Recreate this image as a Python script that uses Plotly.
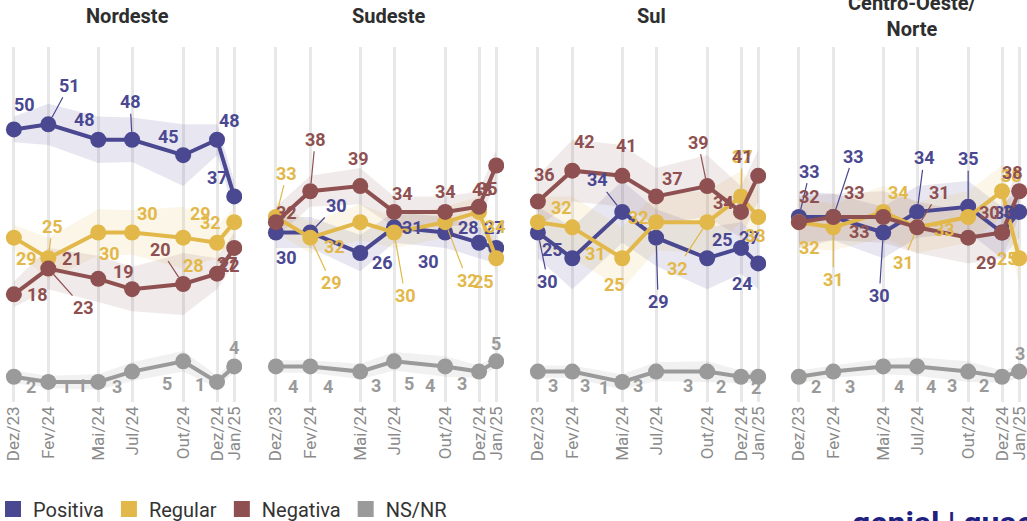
import plotly.graph_objects as go

# ---------------- data ----------------
dates = ["2023-12-01", "2024-02-01", "2024-05-01", "2024-07-01",
         "2024-10-01", "2024-12-01", "2025-01-01"]
tick_labels = ["Dez/23", "Fev/24", "Mai/24", "Jul/24", "Out/24", "Dez/24", "Jan/25"]
region_titles = ["Nordeste", "Sudeste", "Sul", "Centro-Oeste/<br>Norte"]
series_names = ["Positiva", "Regular", "Negativa", "NS/NR"]

# Nordeste
ne_positiva = [50, 51, 48, 48, 45, 48, 37]
ne_regular = [29, 25, 30, 30, 29, 28, 32]
ne_negativa = [18, 23, 21, 19, 20, 22, 27]
ne_nsnr = [2, 1, 1, 3, 5, 1, 4]
# Sudeste
se_positiva = [30, 30, 26, 31, 30, 28, 27]
se_regular = [33, 29, 32, 30, 32, 34, 25]
se_negativa = [32, 38, 39, 34, 34, 35, 43]
se_nsnr = [4, 4, 3, 5, 4, 3, 5]
# Sul
s_positiva = [30, 25, 34, 29, 25, 27, 24]
s_regular = [32, 31, 25, 32, 32, 37, 33]
s_negativa = [36, 42, 41, 37, 39, 34, 41]
s_nsnr = [3, 3, 1, 3, 3, 2, 2]
# Centro-Oeste/Norte
co_positiva = [33, 33, 30, 34, 35, 30, 34]
co_regular = [32, 31, 34, 31, 33, 38, 25]
co_negativa = [32, 33, 33, 31, 29, 30, 38]
co_nsnr = [2, 3, 4, 4, 3, 2, 3]

# margin-of-error bands (+/- points)
ne_margem = [2.5, 4, 4.5, 4.3, 6, 3, 3]
se_margem = [3, 3, 3.5, 3, 3, 3, 3]
s_margem = [5, 6, 6, 5.5, 6, 5, 5]
co_margem = [5, 4.5, 5, 5, 5, 5, 5]
nsnr_margem = [1.2, 1.2, 1.5, 1.8, 2, 1.2, 1.2]

regions = [
    [ne_positiva, ne_regular, ne_negativa, ne_nsnr],
    [se_positiva, se_regular, se_negativa, se_nsnr],
    [s_positiva, s_regular, s_negativa, s_nsnr],
    [co_positiva, co_regular, co_negativa, co_nsnr],
]
margens = [ne_margem, se_margem, s_margem, co_margem]

# ---------------- style ----------------
colors = ["#4a4891", "#e2b84a", "#8e5050", "#9a9a9a"]
band_colors = ["rgba(74,72,145,0.13)", "rgba(226,184,74,0.13)",
               "rgba(142,80,80,0.12)", "rgba(150,150,150,0.13)"]
FONT = "Roboto"

# label offsets (dx, dy in px; leader line flag) per region / series / point
offsets = [
    [  # Nordeste
        [(11, -25, 0), (21, -39, 1), (-14, -20, 0), (-2, -38, 1), (-15, -19, 0), (12, -19, 0), (-17, -19, 0)],
        [(13, 21, 0), (4, -32, 1), (11, 21, 0), (15, -19, 0), (17, -24, 0), (-24, 23, 0), (-24, 0, 0)],
        [(24, 0, 0), (35, 39, 1), (-26, -20, 0), (-9, -18, 0), (-23, -35, 1), (12, -8, 0), (-7, 16, 0)],
        [(17, 10, 0), (18, 5, 0), (-16, 4, 0), (-15, 15, 0), (-16, 22, 0), (-17, 3, 0), (0, -19, 0)],
    ],
    [  # Sudeste
        [(11, 25, 0), (26, -27, 1), (22, 9, 0), (18, 0, 0), (-17, 29, 0), (-11, -15, 0), (-2, -20, 0)],
        [(11, -44, 1), (21, 45, 1), (-26, 24, 0), (11, 63, 1), (22, 58, 1), (16, 15, 0), (-13, 23, 0)],
        [(11, -10, 0), (5, -52, 1), (-2, -28, 0), (8, -18, 0), (0, -20, 0), (8, -18, 0), (-14, 24, 0)],
        [(17, 20, 0), (18, 20, 0), (16, 14, 0), (15, 22, 0), (-15, 19, 0), (-17, 12, 0), (0, -18, 0)],
    ],
    [  # Sul
        [(10, 49, 1), (-20, -9, 0), (-25, -32, 1), (2, 64, 1), (15, -19, 0), (8, -10, 0), (-16, 20, 0)],
        [(24, -15, 0), (23, 26, 0), (-8, 26, 0), (-18, -5, 0), (-30, 46, 1), (1, -40, 1), (-3, 18, 0)],
        [(7, -27, 0), (12, -29, 0), (4, -30, 0), (16, -18, 0), (-9, -44, 1), (-18, -9, 0), (-16, -19, 0)],
        [(15, 14, 0), (13, 14, 0), (-18, 6, 0), (-18, 14, 0), (-19, 14, 0), (-20, 10, 0), (-2, 11, 0)],
    ],
    [  # Centro-Oeste/Norte
        [(11, -46, 1), (20, -61, 1), (-4, 63, 1), (7, -54, 1), (0, -48, 1), (2, -20, 0), (-6, 0, 0)],
        [(11, 25, 0), (0, 52, 1), (15, -19, 0), (-14, 35, 1), (-24, 12, 0), (9, -16, 0), (-12, 0, 0)],
        [(11, -26, 0), (21, -25, 0), (-24, 14, 0), (22, -35, 1), (18, 25, 0), (-13, -20, 0), (-7, -19, 0)],
        [(17, 10, 0), (17, 15, 0), (16, 20, 0), (14, 20, 0), (-16, 14, 0), (-18, 9, 0), (1, -18, 0)],
    ],
]

W, H = 1027, 521
plot_top, plot_bottom = 47, 402
plot_h = plot_bottom - plot_top
panel_left = [0, 262, 524, 785]
panel_width = 242

fig = go.Figure()
annotations = []
layout_axes = {}

draw_order = [3, 0, 1, 2]

for r in range(4):
    xname = "x" if r == 0 else f"x{r + 1}"
    yname = "y" if r == 0 else f"y{r + 1}"
    # bands
    for s in draw_order:
        vals = regions[r][s]
        m = nsnr_margem if s == 3 else margens[r]
        upper = [v + e for v, e in zip(vals, m)]
        lower = [v - e for v, e in zip(vals, m)]
        fig.add_trace(go.Scatter(
            x=dates + dates[::-1], y=upper + lower[::-1],
            fill="toself", fillcolor=band_colors[s], line=dict(width=0),
            mode="lines", hoverinfo="skip", showlegend=False,
            xaxis=xname, yaxis=yname))
    # lines
    for s in draw_order:
        fig.add_trace(go.Scatter(
            x=dates, y=regions[r][s], mode="lines+markers",
            line=dict(color=colors[s], width=4),
            marker=dict(color=colors[s], size=16),
            showlegend=False, name=series_names[s],
            xaxis=xname, yaxis=yname))
    # labels
    for s in range(4):
        for i, v in enumerate(regions[r][s]):
            dx, dy, lead = offsets[r][s][i]
            base = dict(x=dates[i], y=v, xref=xname, yref=yname, text=str(v),
                        font=dict(family=FONT, size=18, color=colors[s], weight="bold"))
            if lead:
                base.update(showarrow=True, ax=dx, ay=dy, arrowhead=0,
                            arrowwidth=1.2, arrowcolor=colors[s], standoff=8)
            else:
                base.update(showarrow=False, xshift=dx, yshift=-dy)
            annotations.append(base)
    # title
    cx = (panel_left[r] + panel_width / 2 + 6) / W
    annotations.append(dict(
        x=cx, y=1 + (plot_top - 16) / plot_h,
        xref="paper", yref="paper", text=region_titles[r], showarrow=False,
        yanchor="middle", xanchor="center",
        font=dict(family=FONT, size=20, color="#2e2e2e", weight="bold")))

    dom = [panel_left[r] / W, (panel_left[r] + panel_width) / W]
    layout_axes["xaxis" if r == 0 else f"xaxis{r + 1}"] = dict(
        domain=dom, type="date", anchor=yname,
        range=["2023-11-06", "2025-01-15"],
        tickmode="array", tickvals=dates, ticktext=tick_labels,
        tickangle=-90, tickfont=dict(family=FONT, size=17, color="#8a8a8a"),
        ticklabeloverflow="allow",
        showgrid=True, gridcolor="#e8e8e8", gridwidth=3,
        zeroline=False, showline=False, ticks="", automargin=False)
    layout_axes["yaxis" if r == 0 else f"yaxis{r + 1}"] = dict(
        domain=[0, 1], range=[-2.9, 66], anchor=xname,
        showgrid=False, zeroline=False, showticklabels=False, showline=False)

# legend entries
for s in range(4):
    fig.add_trace(go.Scatter(
        x=[None], y=[None], mode="markers", name=series_names[s],
        marker=dict(symbol="square", size=16, color=colors[s]),
        showlegend=True, xaxis="x", yaxis="y"))

# logo (partially visible at the bottom)
annotations.append(dict(
    x=850 / W, y=(plot_bottom - 502) / plot_h,
    xref="paper", yref="paper", text="genial | quaest", showarrow=False,
    xanchor="left", yanchor="top",
    font=dict(family=FONT, size=32, color="#1f2180", weight="bold")))

fig.update_layout(
    width=W, height=H,
    margin=dict(l=0, r=0, t=plot_top, b=H - plot_bottom, autoexpand=False),
    plot_bgcolor="white", paper_bgcolor="white",
    annotations=annotations,
    showlegend=True,
    legend=dict(orientation="h", x=-7 / W, xanchor="left",
                y=(plot_bottom - 509) / plot_h, yanchor="middle",
                font=dict(family=FONT, size=20, color="#333333"),
                bgcolor="rgba(0,0,0,0)", itemclick=False),
    **layout_axes,
)

fig.write_html(
    "out.html",
    config={"displayModeBar": False},
    post_script="document.body.style.margin='0px';document.body.style.overflow='hidden';",
)
